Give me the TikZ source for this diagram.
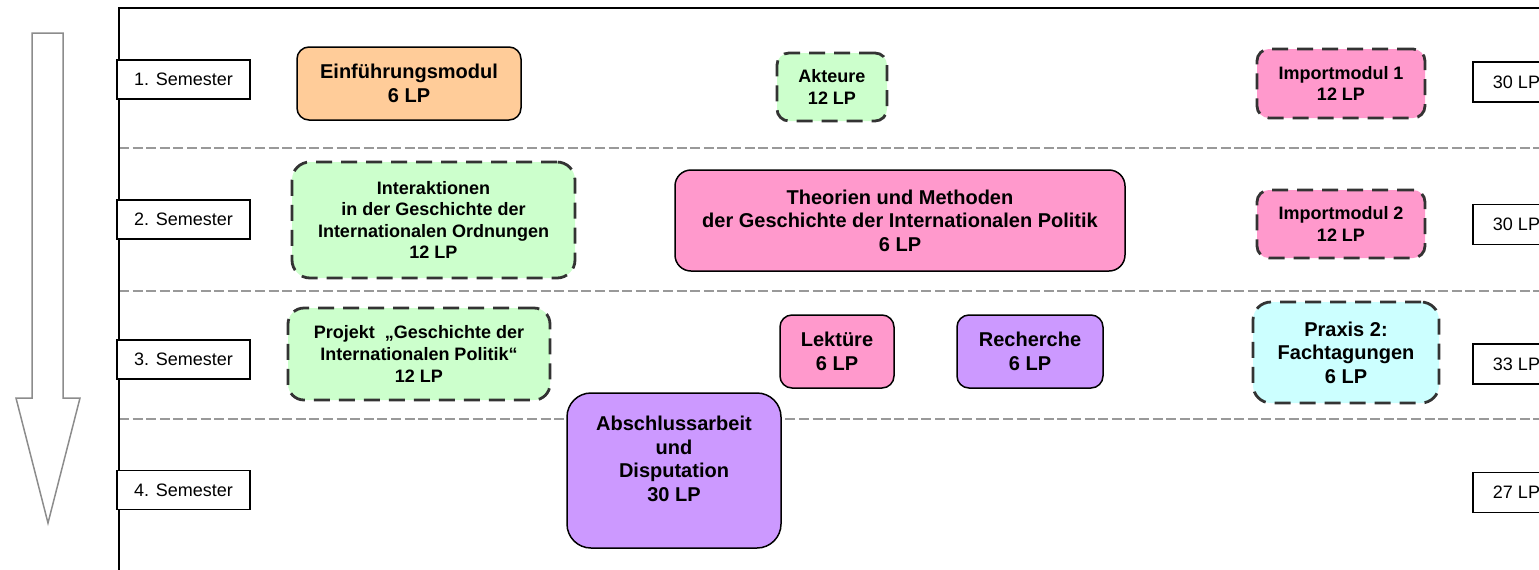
\documentclass[tikz,border=0pt]{standalone}
\usepackage{fontspec}
\setmainfont{Liberation Sans}
\definecolor{orangebox}{HTML}{FFCC99}
\definecolor{greenbox}{HTML}{CCFFCC}
\definecolor{pinkbox}{HTML}{FF99CC}
\definecolor{purplebox}{HTML}{CC99FF}
\definecolor{cyanbox}{HTML}{CCFFFF}
\newcommand{\grossfont}{\bfseries\fontsize{10}{11.8}\selectfont}
\newcommand{\kleinfont}{\bfseries\fontsize{9}{10.8}\selectfont}

\begin{document}
\begin{tikzpicture}[x=0.5pt, y=-0.5pt,
  semester/.style={draw, line width=0.9pt, fill=white, inner sep=0pt,
    minimum width=66.5pt, minimum height=19.5pt, font=\fontsize{9}{10}\selectfont},
  lpbox/.style={semester, minimum width=43.5pt, minimum height=20pt},
  wahl/.style={draw=black!80, line width=1.4pt, dash pattern=on 8pt off 4.5pt},
  trenner/.style={black!40, line width=0.75pt, dash pattern=on 5pt off 1.8pt}]
\useasboundingbox (0,0) rectangle (1539,569);
\newcommand{\modul}[1][]{\node [draw, line width=0.75pt, rounded corners=6pt, align=center, inner sep=2pt, font=\grossfont, #1]}

\draw [black!45, line width=0.75pt] (32,33) -- (63,33) -- (63,398) -- (80,398)
  -- (48,523) -- (16,398) -- (32,398) -- cycle;

\foreach \y in {148,291,419}
  \draw [trenner] (119,\y) -- (1560,\y);
\draw [line width=1pt] (119,590) -- (119,8) -- (1560,8);

\foreach \y [count=\i] in {79.5,219.5,359.5,490}
  \node [semester] (S\i) at (183.5,\y) {\i. Semester};
\foreach \y/\lp [count=\i] in {82/30,224.5/30,364/33,492.5/27}
  \node [lpbox] (LP\i) at (1516.5,\y) {\lp\ LP};

\modul [fill=orangebox, minimum width=112pt, minimum height=36.5pt] (E) at (409,83.5) {Einführungsmodul\\6 LP};
\modul [wahl, fill=greenbox, font=\kleinfont, minimum width=55pt, minimum height=34pt] (A) at (832,87) {Akteure\\12 LP};
\modul [wahl, fill=pinkbox, font=\kleinfont, minimum width=84pt, minimum height=34.5pt] (I1) at (1341,83.5) {Importmodul 1\\12 LP};

\modul [wahl, fill=greenbox, font=\kleinfont, rounded corners=9pt, minimum width=141.5pt, minimum height=58pt] (IO) at (433.5,220) {Interaktionen\\in der Geschichte der\\Internationalen Ordnungen\\12 LP};
\modul [fill=pinkbox, rounded corners=8pt, minimum width=225pt, minimum height=50.5pt] (T) at (900,220.5) {Theorien und Methoden\\der Geschichte der Internationalen Politik\\6 LP};
\modul [wahl, fill=pinkbox, font=\kleinfont, minimum width=84pt, minimum height=34pt] (I2) at (1341,224) {Importmodul 2\\12 LP};

\modul [wahl, fill=greenbox, font=\kleinfont, rounded corners=8pt, minimum width=131pt, minimum height=46pt] (P) at (419,354) {Projekt\ \ „Geschichte der\\Internationalen Politik“\\12 LP};
\modul [fill=pinkbox, minimum width=57pt, minimum height=36.5pt] (Lk) at (837,351.5) {Lektüre\\6 LP};
\modul [fill=purplebox, minimum width=73pt, minimum height=36.5pt] (R) at (1030,351.5) {Recherche\\6 LP};
\modul [wahl, fill=cyanbox, rounded corners=9pt, minimum width=93pt, minimum height=50.5pt] (PF) at (1346,352.5) {Praxis 2:\\Fachtagungen\\6 LP};

\modul [fill=purplebox, rounded corners=12pt, minimum width=107pt, minimum height=77.5pt] (D) at (674,470.5) {Abschlussarbeit\\und\\Disputation\\30 LP\\~};
\end{tikzpicture}
\end{document}
